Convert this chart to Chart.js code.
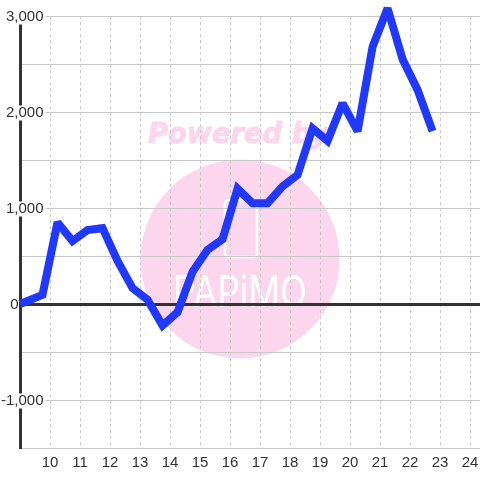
<!DOCTYPE html>
<html>
  <head>
    <title>Chart</title>
    <script src="https://cdn.jsdelivr.net/npm/chart.js"></script>
    <style>
      html, body { margin: 0; padding: 0; background: #fff; }
      canvas { display: block; }
    </style>
  </head>
  <body>
    <canvas id="chart" width="480" height="480"></canvas>

    <script>
      // hour of the day for each point
      const hours = [9, 9.75, 10.25, 10.75, 11.25, 11.75, 12.25, 12.75, 13.25, 13.75, 14.25, 14.75, 15.25, 15.75,
        16.25, 16.75, 17.25, 17.75, 18.25, 18.75, 19.25, 19.75, 20.25, 20.75, 21.25, 21.75, 22.25, 22.75];
      const values = [0, 95, 850, 655, 770, 790, 450, 165, 45, -225, -85, 335, 565, 675,
        1200, 1050, 1050, 1225, 1345, 1830, 1700, 2090, 1800, 2680, 3080, 2550, 2230, 1800];
      const yLabels = { '3000': '3,000', '2000': '2,000', '1000': '1,000', '-1000': '-1,000' };

      const gridColor = '#c8c8c8';
      const axisColor = '#333333';

      // watermark goes behind the grid
      const watermark = {
        id: 'watermark',
        beforeDraw(chart) {
          const c = chart.ctx;
          c.save();
          c.fillStyle = '#ffffff';
          c.fillRect(0, 0, 480, 480);
          c.fillStyle = '#fbd6ec';
          c.beginPath();
          c.arc(240, 259, 99.5, 0, Math.PI * 2);
          c.fill();

          c.font = 'italic bold 29px "DejaVu Sans"';
          c.textBaseline = 'middle';
          c.textAlign = 'left';
          c.strokeStyle = '#fbd6ec';
          c.lineWidth = 1;
          c.fillText('Powered by', 148, 135, 181);
          c.strokeText('Powered by', 148, 135, 181);

          c.strokeStyle = '#ffffff';
          c.lineWidth = 2.5;
          c.beginPath();
          c.roundRect(225, 200, 32, 57, 4);
          c.stroke();

          c.fillStyle = '#ffffff';
          c.font = '400 44px "Inter"';
          c.textAlign = 'center';
          c.textBaseline = 'alphabetic';
          c.fillText('PAPiMO', 240, 307, 134);
          c.restore();
        },
        // sharp peaks are cut flat
        beforeDatasetsDraw(chart) {
          chart.ctx.miterLimit = 2;
        }
      };

      new Chart(document.getElementById('chart'), {
        type: 'line',
        data: {
          datasets: [{
            data: hours.map((h, i) => ({ x: h, y: values[i] })),
            borderColor: '#2038ff',
            borderWidth: 8,
            borderJoinStyle: 'miter',
            borderCapStyle: 'butt',
            pointRadius: 0,
            tension: 0,
            clip: false
          }]
        },
        options: {
          responsive: false,
          animation: false,
          devicePixelRatio: 1,
          layout: { padding: { top: 16, left: 0, right: 0, bottom: 0 } },
          plugins: { legend: { display: false }, tooltip: { enabled: false } },
          scales: {
            x: {
              type: 'linear',
              min: 9,
              max: 24.33,
              afterFit: (axis) => {
                axis.height = 32;
                axis.paddingLeft = 0;
                axis.paddingRight = 0;
              },
              border: { display: false, dash: [3, 3] },
              grid: { color: gridColor, lineWidth: 1, drawTicks: false },
              ticks: {
                stepSize: 1,
                includeBounds: false,
                autoSkip: false,
                maxRotation: 0,
                padding: 7,
                color: axisColor,
                font: { family: '"Liberation Sans"', size: 15, lineHeight: 1 },
                callback: (v) => (v === 9 ? '' : String(v))
              }
            },
            y: {
              min: -1500,
              max: 3000,
              afterFit: (axis) => { axis.width = 20; },
              border: { display: true, color: axisColor, width: 3 },
              grid: {
                drawTicks: false,
                color: (ctx) => (ctx.tick && ctx.tick.value === 0 ? axisColor : gridColor),
                lineWidth: (ctx) => (ctx.tick && ctx.tick.value === 0 ? 3 : 1)
              },
              ticks: {
                stepSize: 500,
                autoSkip: false,
                mirror: true,
                crossAlign: 'far',
                padding: -19,
                labelOffset: 1,
                color: axisColor,
                font: { family: '"Liberation Sans"', size: 15, lineHeight: 1 },
                showLabelBackdrop: true,
                backdropColor: (ctx) => (yLabels[ctx.tick.value] ? '#ffffff' : 'rgba(0,0,0,0)'),
                backdropPadding: { x: 2, y: 0 },
                // the 0 label sits left of the axis, padded with spaces
                callback: (v) => (v === 0 ? '0\u00a0\u00a0\u00a0\u00a0\u00a0\u00a0' : (yLabels[v] || ''))
              }
            }
          }
        },
        plugins: [watermark]
      });
    </script>
  </body>
</html>
